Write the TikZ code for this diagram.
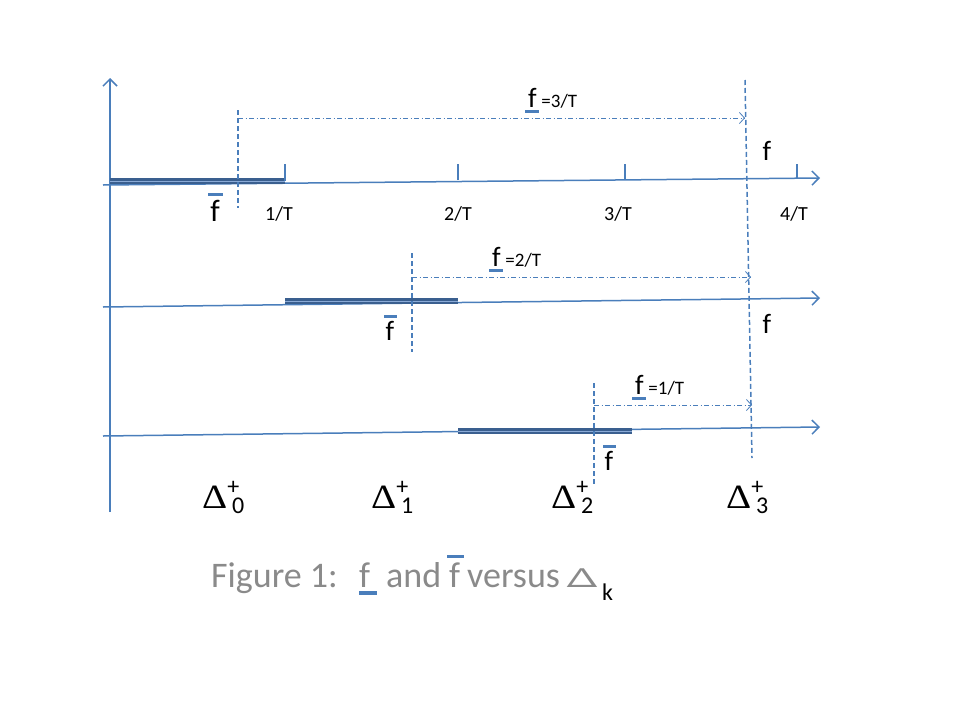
\documentclass[tikz,border=0pt]{standalone}
\usepackage{fontspec}
\usepackage{graphicx}
\setmainfont{Carlito}
\newfontfamily\serf{Liberation Serif}
\usetikzlibrary{arrows.meta}
\definecolor{axblue}{HTML}{4A7EBB}
\definecolor{bardark}{HTML}{3A5F8F}
\definecolor{barlight}{HTML}{8AAAD6}
\definecolor{capgray}{HTML}{8A8A8A}
\newcommand\fs[1]{\fontsize{#1}{#1}\selectfont}
% underlined f: #1 = depth of bar below baseline, #2 = left shift
\newcommand\uf[2]{\leavevmode\rlap{\hspace{-#2}\raisebox{-#1}{\color{axblue}\rule{0.5em}{0.09em}}}f}
\newcommand\fb{\leavevmode\rlap{\hspace{-0.06em}\raisebox{0.8em}{\color{axblue}\rule{0.46em}{0.09em}}}f}
\newcommand\dlab[1]{{\fs{34}\scalebox{1.15}[1]{\serf Δ}}\rlap{\fs{24}\raisebox{0.55em}{+}}{\fs{24}\hspace{0.2em}\raisebox{-0.22em}{#1}}}
\begin{document}
\begin{tikzpicture}[x=1pt,y=-1pt,
  axis/.style={axblue, line width=1.5pt, -{Straight Barb[length=7pt,width=14pt,line width=1.5pt]}},
  barline/.style={line width=5.5pt, bardark},
  barin/.style={line width=0.8pt, barlight},
  vdash/.style={axblue, line width=1.5pt, dash pattern=on 5pt off 3pt},
  ddarrow/.style={axblue, line width=0.8pt, dash pattern=on 5pt off 2.5pt on 1pt off 2.5pt, -{Straight Barb[length=5pt,width=11pt,line width=0.8pt]}},
  tickline/.style={axblue, line width=1.5pt},
  lab/.style={inner sep=0pt, anchor=base},
  every node/.style={inner sep=0pt}]
\useasboundingbox (0,0) rectangle (960,720);
% vertical axis
\coordinate (vb) at (110,512); \coordinate (vt) at (110,78);
\draw[axis] (vb) -- (vt);
% horizontal axes
\coordinate (a1s) at (103,185); \coordinate (a1e) at (820,178);
\coordinate (a2s) at (103,307); \coordinate (a2e) at (820,298);
\coordinate (a3s) at (103,436); \coordinate (a3e) at (820,427);
\draw[axis] (a1s) -- (a1e);
\draw[axis] (a2s) -- (a2e);
\draw[axis] (a3s) -- (a3e);
% thick bars
\coordinate (b1s) at (110,181); \coordinate (b1e) at (285,181);
\coordinate (b2s) at (285,301); \coordinate (b2e) at (458,301);
\coordinate (b3s) at (458,431); \coordinate (b3e) at (632,431);
\foreach \s/\e in {b1s/b1e,b2s/b2e,b3s/b3e}{
  \draw[barline] (\s) -- (\e);
  \draw[barin] (\s) -- (\e);}
% ticks
\foreach \n/\x/\yb in {t1/285/181,t2/458/180,t3/625/179,t4/797/178}{
  \coordinate (\n b) at (\x,\yb); \coordinate (\n t) at (\x,164);
  \draw[tickline] (\n b) -- (\n t);}
% tick labels
\node[lab] (l1) at (279,220) {\fs{20}1/T};
\node[lab] (l2) at (458,220) {\fs{20}2/T};
\node[lab] (l3) at (618,220) {\fs{20}3/T};
\node[lab] (l4) at (794,220) {\fs{20}4/T};
% dashed verticals
\coordinate (d1t) at (238,110); \coordinate (d1b) at (238,208);
\coordinate (d2t) at (412,253); \coordinate (d2b) at (412,352);
\coordinate (d3t) at (594,383); \coordinate (d3b) at (594,485);
\coordinate (d4t) at (745,80);  \coordinate (d4b) at (752,458);
\foreach \t/\b in {d1t/d1b,d2t/d2b,d3t/d3b,d4t/d4b} \draw[vdash] (\t) -- (\b);
% dash-dot arrows
\coordinate (h1s) at (238,118); \coordinate (h1e) at (745,118);
\coordinate (h2s) at (412,277); \coordinate (h2e) at (751,277);
\coordinate (h3s) at (594,405); \coordinate (h3e) at (752,405);
\draw[ddarrow] (h1s) -- (h1e);
\draw[ddarrow] (h2s) -- (h2e);
\draw[ddarrow] (h3s) -- (h3e);
% labels above arrows
\node[lab, anchor=base west] (u1) at (528,107) {\fs{28}\uf{0.2em}{0.1em}\,{\fs{19}=3/T}};
\node[lab, anchor=base west] (u2) at (492,266) {\fs{28}\uf{0.2em}{0.1em}\,{\fs{19}=2/T}};
\node[lab, anchor=base west] (u3) at (635,394) {\fs{28}\uf{0.2em}{0.1em}\,{\fs{19}=1/T}};
% f labels on axes
\node[lab] (f1) at (767,160) {\fs{28}f};
\node[lab] (f2) at (767,333) {\fs{28}f};
% f-bar labels
\node[lab] (fb1) at (215,221) {\fs{31}\fb};
\node[lab] (fb2) at (390,340) {\fs{28}\fb};
\node[lab] (fb3) at (609,470) {\fs{28}\fb};
% Delta labels
\node[lab, anchor=base west] (D0) at (202,508) {\dlab{0}};
\node[lab, anchor=base west] (D1) at (371,508) {\dlab{1}};
\node[lab, anchor=base west] (D2) at (551,508) {\dlab{2}};
\node[lab, anchor=base west] (D3) at (726,508) {\dlab{3}};
% caption
\node[lab, anchor=base west] (cap) at (211,587) {\fs{36}\color{capgray}%
  \hbox to 148pt{Figure 1:\hss}\hbox to 27pt{\uf{0.21em}{0em}\hss}\hbox to 63pt{and\hss}%
  \hbox to 18pt{\fb\hss}\hbox to 98pt{versus\hss}\hbox to 37pt{\scalebox{1.2}[0.75]{\sffamily Δ}\hss}%
  \raisebox{-13pt}{\color{black}\fs{24}k}};
\end{tikzpicture}
\end{document}
